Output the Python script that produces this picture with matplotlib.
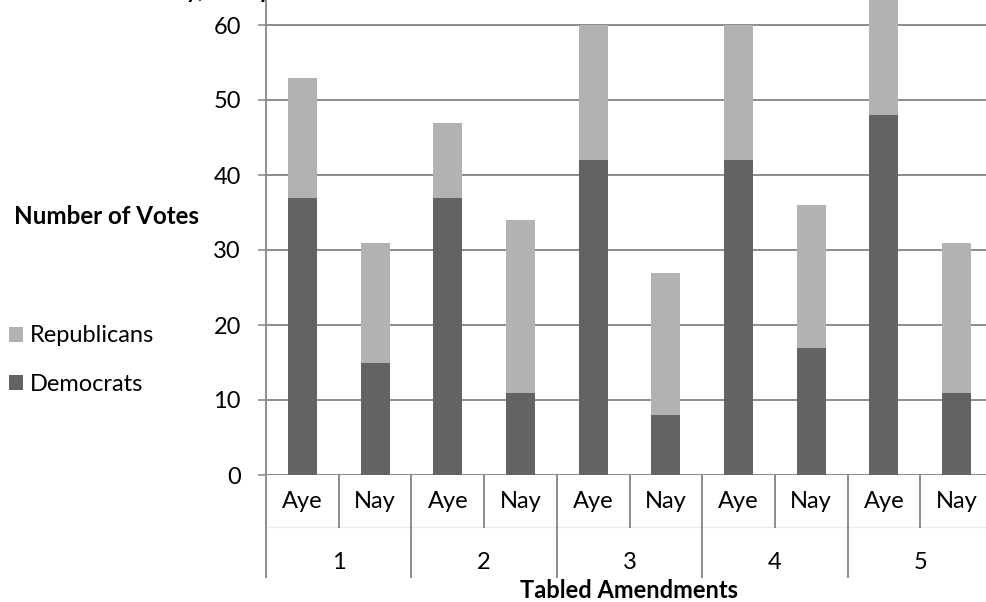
import matplotlib
matplotlib.use("Agg")
import matplotlib.pyplot as plt
import matplotlib.transforms as mtransforms
import numpy as np

plt.rcParams['font.family'] = ['Lato', 'DejaVu Sans']

amendments = ["1", "2", "3", "4", "5"]
vote_kinds = ["Aye", "Nay"]
democrats = [37, 15, 37, 11, 42, 8, 42, 17, 48, 11]
republicans = [16, 16, 10, 23, 18, 19, 18, 19, 18, 20]
y_ticks = [0, 10, 20, 30, 40, 50, 60, 70]

DARK = "#636363"
LIGHT = "#b2b2b2"
GRID = "#8c8c8c"
FS = 17

W, H = 987, 602
fig = plt.figure(figsize=(W / 100, H / 100), dpi=100)

# axes placed in pixel terms; the plot area runs past the top and right edges
ax_left, ax_right = 266, 993
ax_bottom_px = 475          # y of the zero line, from the top
ax_top_px = -50             # y of the top gridline (70)
ax = fig.add_axes([ax_left / W, (H - ax_bottom_px) / H,
                   (ax_right - ax_left) / W, (ax_bottom_px - ax_top_px) / H])
ax_h_px = ax_bottom_px - ax_top_px

x = np.arange(len(democrats))
bar_w = 0.4
dem_bars = ax.bar(x, democrats, bar_w, color=DARK, label="Democrats", zorder=3)
rep_bars = ax.bar(x, republicans, bar_w, bottom=democrats, color=LIGHT,
                  label="Republicans", zorder=3)

ax.set_xlim(-0.5, len(democrats) - 0.5)
ax.set_ylim(0, 70)
ax.set_yticks(y_ticks)
ax.yaxis.grid(True, color=GRID, linewidth=1.4, zorder=1)
ax.set_axisbelow(True)
ax.tick_params(axis='y', length=5.5, width=1.2, color=GRID, pad=12.5,
               labelsize=FS, labelcolor="black")
ax.set_xticks([])
for s in ("top", "right", "bottom"):
    ax.spines[s].set_visible(False)
ax.spines["left"].set_color(GRID)
ax.spines["left"].set_linewidth(1.4)

# two-level category axis drawn below the zero line
trans = mtransforms.blended_transform_factory(ax.transData, ax.transAxes)
def frac(px):
    return -px / ax_h_px

lvl1 = 52
lvl2 = 102
ax.plot([-0.5, len(democrats) - 0.5], [frac(lvl1)] * 2, transform=trans,
        color="#ededed", linewidth=1.0, clip_on=False)
for i in range(len(democrats) + 1):
    xb = i - 0.5
    depth = lvl2 if i % 2 == 0 else lvl1
    ax.plot([xb, xb], [0, frac(depth)], transform=trans, color=GRID,
            linewidth=1.4, clip_on=False)
for i in range(len(democrats)):
    ax.text(i, frac(26.5), vote_kinds[i % 2], transform=trans, ha="center",
            va="center", fontsize=FS)
for j, name in enumerate(amendments):
    ax.text(2 * j + 0.5, frac(87.5), name, transform=trans, ha="center",
            va="center", fontsize=FS)

fig.text((ax_left + ax_right) / 2 / W, 1 - 591 / H, "Tabled Amendments",
         ha="center", va="center", fontsize=FS, fontweight="bold")
fig.text(14 / W, 1 - 216 / H, "Number of Votes", ha="left", va="center",
         fontsize=17.4, fontweight="bold")

fig.legend(handles=[rep_bars, dem_bars], labels=["Republicans", "Democrats"],
           loc="center left", bbox_to_anchor=(9 / W, 1 - 360 / H),
           frameon=False, fontsize=FS, handlelength=0.6, handleheight=0.6,
           handletextpad=0.3, labelspacing=1.15, borderaxespad=0,
           borderpad=0)

# chart title sits behind the plot area, only its lowest strokes show
title_text = "Tabled Amendment Votes Held on Monday, Grouped by Party"
fig.canvas.draw()
r = fig.canvas.get_renderer()
def text_width(s, size):
    t = fig.text(0, 0, s, fontsize=size, fontweight="bold")
    w = t.get_window_extent(r).width
    t.remove()
    return w
base = 19
span = text_width("Tabled Amendment Votes Held on Monday, Grou", base) - \
    text_width("Tabled Amendment Votes Held on Monda", base)
title_fs = base * 74 / span
lead = text_width("Tabled Amendment Votes Held on Monda", title_fs)
fig.text((186 - lead) / W, 1 + 2 / H, title_text, ha="left", va="baseline",
         fontsize=title_fs, fontweight="bold", zorder=-1)
ax.set_zorder(1)

fig.savefig("out.png", dpi=100)
